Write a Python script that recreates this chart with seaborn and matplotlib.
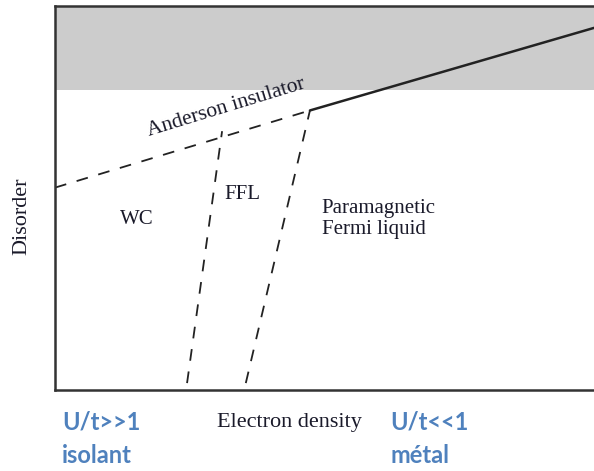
import matplotlib
matplotlib.use("Agg")
import matplotlib.pyplot as plt
import seaborn as sns
import pandas as pd

# phase boundaries in (electron density, disorder), both scaled 0..1
anderson_dashed_x = [0.0, 0.473]
anderson_dashed_y = [0.527, 0.728]
anderson_solid_x = [0.473, 1.0]
anderson_solid_y = [0.728, 0.943]
wc_ffl_x = [0.245, 0.310]
wc_ffl_y = [0.018, 0.674]
ffl_pm_x = [0.354, 0.473]
ffl_pm_y = [0.018, 0.728]
gray_band = [0.781, 1.0]

region_labels = ["WC", "FFL", "Paramagnetic\nFermi liquid"]
region_x = [0.152, 0.347, 0.495]
region_y = [0.445, 0.510, 0.497]

blue = "#4f81bd"
serif = ["Liberation Serif", "DejaVu Serif"]

sns.set_style("white")

fig = plt.figure(figsize=(5.94, 4.71), dpi=100)
ax = fig.add_axes([55 / 594, 81 / 471, 539 / 594, 384 / 471])

ax.axhspan(gray_band[0], gray_band[1], color="#cccccc", lw=0, zorder=0)

dash = (0, (6.5, 6))
sns.lineplot(x=anderson_dashed_x, y=anderson_dashed_y, ax=ax, color="#222222",
             lw=1.3, linestyle=dash)
sns.lineplot(x=anderson_solid_x, y=anderson_solid_y, ax=ax, color="#222222", lw=1.8)
sns.lineplot(x=wc_ffl_x, y=wc_ffl_y, ax=ax, color="#222222", lw=1.3, linestyle=dash)
sns.lineplot(x=ffl_pm_x, y=ffl_pm_y, ax=ax, color="#222222", lw=1.3, linestyle=dash)

ax.set_xlim(0, 1)
ax.set_ylim(0, 1)
ax.set_xticks([])
ax.set_yticks([])
ax.set_xlabel("")
ax.set_ylabel("")
for side in ["left", "top", "bottom"]:
    ax.spines[side].set_color("#333333")
    ax.spines[side].set_linewidth(1.8)
ax.spines["right"].set_visible(False)

for lab, x, y in zip(region_labels, region_x, region_y):
    if "\n" in lab:
        ax.text(x, y, lab, ha="left", va="top", fontsize=15, family=serif,
                color="#1a1a2a", linespacing=1.1)
    else:
        ax.text(x, y, lab, ha="center", va="center", fontsize=15, family=serif,
                color="#1a1a2a")

ax.text(0.318, 0.735, "Anderson insulator", rotation=17, ha="center", va="center",
        fontsize=15.5, family=serif, color="#1a1a2a")

fig.text(0.037, 0.541, "Disorder", rotation=90, ha="center", va="center",
         fontsize=16, family=serif, color="#1a1a2a")
fig.text(0.488, 0.104, "Electron density", ha="center", va="center",
         fontsize=16, family=serif, color="#1a1a2a")

fig.text(62 / 594, 0.068, "U/t>>1\nisolant", ha="left", va="center", fontsize=17,
         family=["Lato", "DejaVu Sans"], weight="bold", color=blue, linespacing=1.55)
fig.text(390 / 594, 0.068, "U/t<<1\nmétal", ha="left", va="center", fontsize=17,
         family=["Lato", "DejaVu Sans"], weight="bold", color=blue, linespacing=1.55)

fig.savefig("out.png", dpi=100)
